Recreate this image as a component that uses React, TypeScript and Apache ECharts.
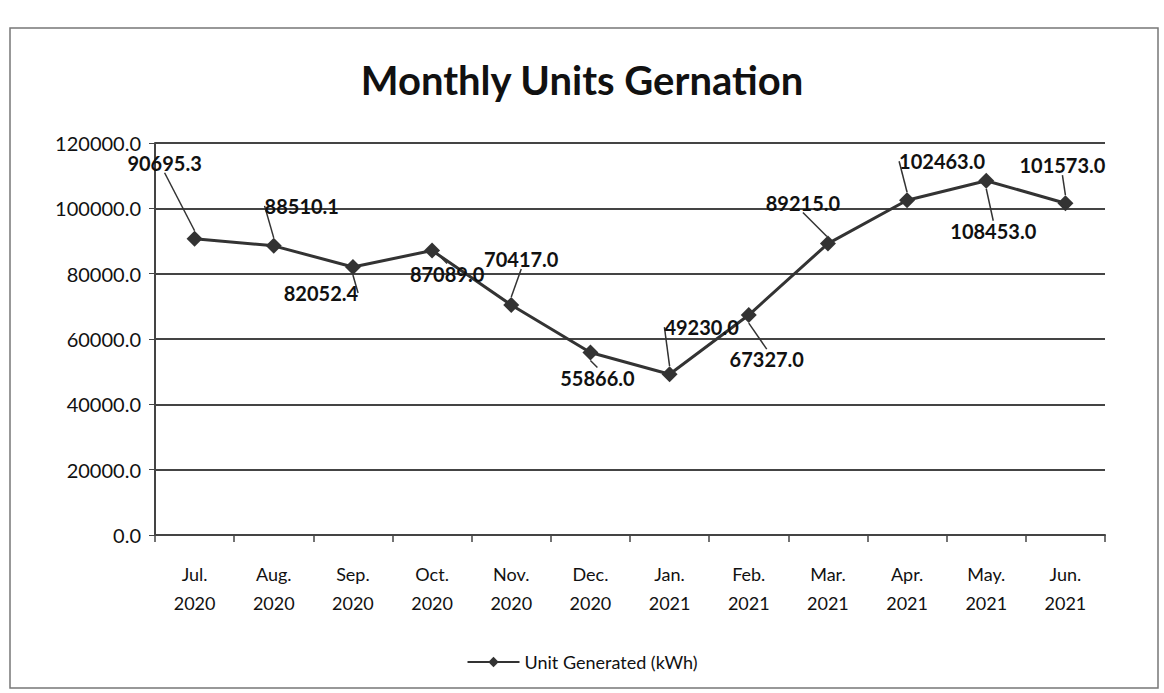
import React, { useEffect, useRef } from "react";
import * as echarts from "echarts";

const categories = [
  "Jul.\n2020", "Aug.\n2020", "Sep.\n2020", "Oct.\n2020", "Nov.\n2020", "Dec.\n2020",
  "Jan.\n2021", "Feb.\n2021", "Mar.\n2021", "Apr.\n2021", "May.\n2021", "Jun.\n2021",
];
const unitsGenerated = [
  90695.3, 88510.1, 82052.4, 87089.0, 70417.0, 55866.0,
  49230.0, 67327.0, 89215.0, 102463.0, 108453.0, 101573.0,
];
const labelOffsets: [number, number][] = [
  [-30, -53], [28, -17], [-32, 49], [15, 46], [10, -23], [7, 48],
  [32, -24], [18, 67], [-25, -18], [35, -16], [7, 73], [-3, -15],
];

const FONT = "Lato, 'Open Sans', sans-serif";

export default function App() {
  const ref = useRef<HTMLDivElement>(null);
  useEffect(() => {
    if (!ref.current) return;
    const chart = echarts.init(ref.current, undefined, { renderer: "svg" });
    chart.setOption({
      animation: false,
      backgroundColor: "#ffffff",
      title: {
        text: "Monthly Units Gernation",
        left: "center",
        top: 55,
        textStyle: { fontFamily: FONT, fontSize: 40, fontWeight: "bold", color: "#111" },
      },
      graphic: [
        {
          type: "rect",
          shape: { x: 10, y: 28, width: 1148, height: 660 },
          style: { fill: "none", stroke: "#777", lineWidth: 1.5 },
          silent: true,
        },
      ],
      legend: {
        bottom: 17,
        left: "center",
        itemWidth: 52,
        itemHeight: 13,
        itemGap: 6,
        textStyle: { fontFamily: FONT, fontSize: 18, color: "#111" },
        data: ["Unit Generated (kWh)"],
      },
      grid: { left: 155, right: 59, top: 143, bottom: 158, containLabel: false },
      xAxis: {
        type: "category",
        data: categories,
        boundaryGap: true,
        axisLine: { show: true, lineStyle: { color: "#444", width: 2 } },
        axisTick: { show: true, alignWithLabel: false, length: 7, lineStyle: { color: "#444", width: 1.5 } },
        axisLabel: {
          fontFamily: FONT,
          fontSize: 18,
          color: "#111",
          margin: 24,
          lineHeight: 29,
        },
      },
      yAxis: {
        type: "value",
        min: 0,
        max: 120000,
        interval: 20000,
        axisLine: { show: true, lineStyle: { color: "#444", width: 2 } },
        axisTick: { show: true, length: 6, lineStyle: { color: "#444" } },
        axisLabel: {
          fontFamily: FONT,
          fontSize: 20,
          color: "#111",
          margin: 14,
          formatter: (v: number) => v.toFixed(1),
        },
        splitLine: { show: true, lineStyle: { color: "#444", width: 2 } },
      },
      series: [
        {
          name: "Unit Generated (kWh)",
          type: "line",
          data: unitsGenerated,
          symbol: "diamond",
          symbolSize: 16,
          itemStyle: { color: "#333" },
          lineStyle: { color: "#333", width: 3 },
          label: {
            show: true,
            position: "top",
            fontFamily: FONT,
            fontSize: 20,
            fontWeight: "bold",
            color: "#111",
            formatter: (p: any) => Number(p.value).toFixed(1),
          },
          labelLine: { show: true, lineStyle: { color: "#333", width: 1.5 } },
          labelLayout: (params: any) => {
            const o = labelOffsets[params.dataIndex] || [0, 0];
            return { dx: o[0], dy: o[1] };
          },
        },
      ],
    });
    return () => chart.dispose();
  }, []);
  return (
    <div
      ref={ref}
      style={{ position: "fixed", left: 0, top: 0, width: 1164, height: 693 }}
    />
  );
}
